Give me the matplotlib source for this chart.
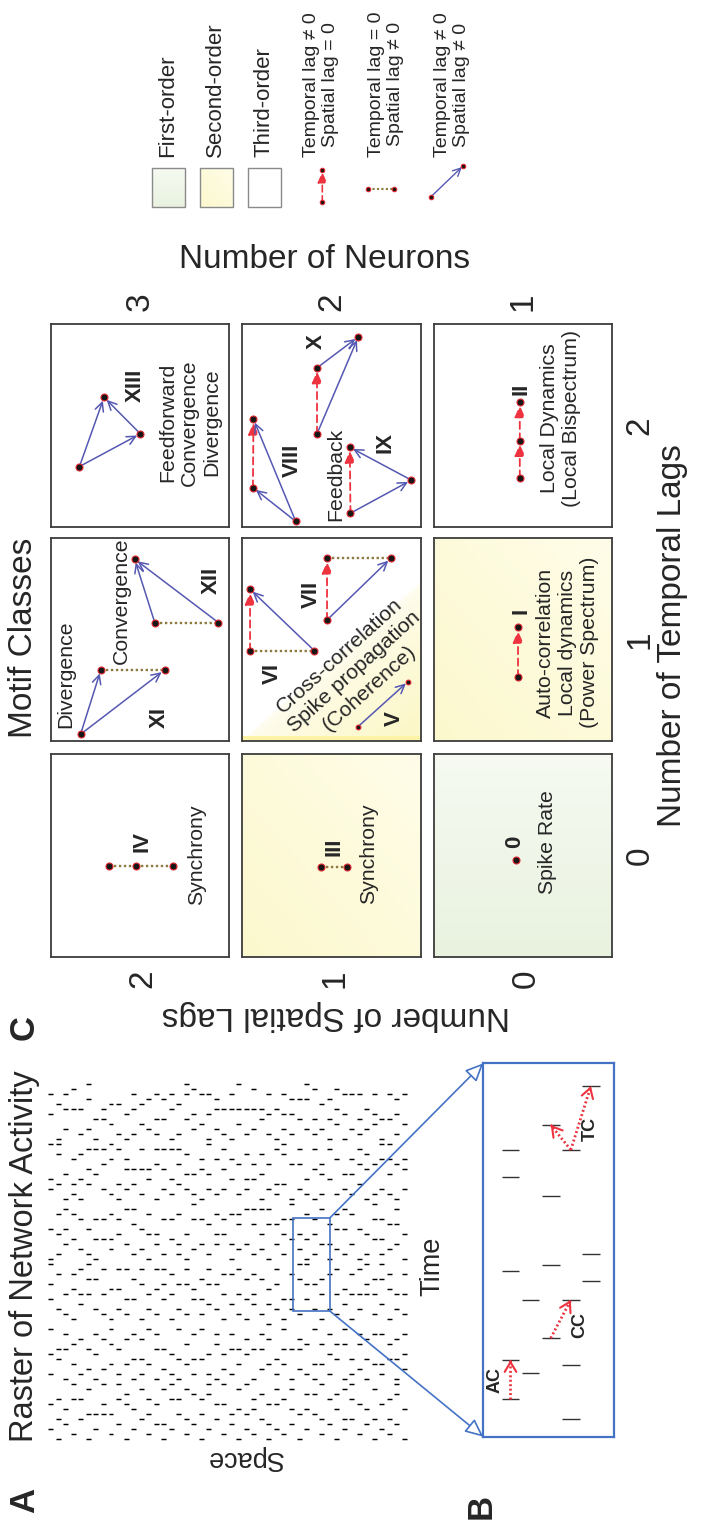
import numpy as np
import matplotlib
matplotlib.use("Agg")
import matplotlib.pyplot as plt
from matplotlib.patches import Rectangle, ConnectionPatch
from matplotlib.colors import to_rgb

plt.rcParams["font.family"] = ["Liberation Sans", "DejaVu Sans"]

# ------------------------------------------------------------------ data
NEURON_TICKS = ["3", "2", "1"]      # one per column of motif boxes
TEMPORAL_TICKS = ["2", "1", "0"]    # one per row of motif boxes
SPATIAL_TICKS = ["2", "1", "0"]     # one per column of motif boxes

# order class of each motif box, rows top->bottom, columns left->right
BOX_ORDER = [["third", "third", "third"],
             ["third", "mixed", "second"],
             ["third", "second", "first"]]

MOTIF_NAMES = ["0", "I", "II", "III", "IV", "V", "VI", "VII",
               "VIII", "IX", "X", "XI", "XII", "XIII"]
# (row, column) of the box holding each motif
MOTIF_BOX = [(2, 2), (1, 2), (0, 2), (2, 1), (2, 0), (1, 1), (1, 1), (1, 1),
             (0, 1), (0, 1), (0, 1), (1, 0), (1, 0), (0, 0)]
# node positions inside the box (fraction of width, fraction of height from top)
MOTIF_NODES = [
    [(0.459, 0.522)],
    [(0.472, 0.440), (0.472, 0.686)],
    [(0.482, 0.383), (0.482, 0.574), (0.482, 0.757)],
    [(0.441, 0.557), (0.588, 0.557)],
    [(0.328, 0.552), (0.479, 0.552), (0.686, 0.552)],
    [(0.646, 0.931), (0.925, 0.709)],
    [(0.045, 0.555), (0.404, 0.555), (0.045, 0.252)],
    [(0.475, 0.404), (0.475, 0.099), (0.832, 0.099)],
    [(0.064, 0.469), (0.061, 0.806), (0.300, 0.972)],
    [(0.606, 0.932), (0.602, 0.607), (0.946, 0.769)],
    [(0.419, 0.541), (0.419, 0.216), (0.650, 0.063)],
    [(0.166, 0.967), (0.280, 0.650), (0.638, 0.650)],
    [(0.583, 0.417), (0.941, 0.417), (0.470, 0.104)],
    [(0.160, 0.702), (0.502, 0.541), (0.298, 0.361)],
]
# links (from, to, kind): t = temporal lag only, s = spatial lag only, ts = both
MOTIF_LINKS = [
    [],
    [(1, 0, "t")],
    [(2, 1, "t"), (1, 0, "t")],
    [(0, 1, "s")],
    [(0, 1, "s"), (1, 2, "s")],
    [(0, 1, "ts")],
    [(0, 2, "t"), (0, 1, "s"), (1, 2, "ts")],
    [(0, 1, "t"), (1, 2, "s"), (0, 2, "ts")],
    [(1, 0, "t"), (2, 0, "ts"), (2, 1, "ts")],
    [(0, 1, "t"), (0, 2, "ts"), (2, 1, "ts")],
    [(0, 1, "t"), (1, 2, "ts"), (0, 2, "ts")],
    [(0, 1, "ts"), (0, 2, "ts"), (1, 2, "s")],
    [(0, 1, "s"), (0, 2, "ts"), (1, 2, "ts")],
    [(0, 1, "ts"), (0, 2, "ts"), (1, 2, "ts")],
]
MOTIF_LABEL_AT = [(0.453, 0.431), (0.491, 0.361), (0.486, 0.320), (0.516, 0.457),
                  (0.511, 0.432), (0.851, 0.889), (0.171, 0.667), (0.385, 0.280),
                  (0.282, 0.674), (0.801, 0.586), (0.413, 0.086), (0.606, 0.883),
                  (0.900, 0.210), (0.473, 0.303)]
SMALL_NODE_MOTIFS = ["V"]

CAPTION_BOX = [(2, 2), (1, 2), (0, 2), (2, 1), (2, 0), (1, 1),
               (0, 1), (0, 0), (1, 0), (1, 0)]
CAPTION_TEXT = ["Spike Rate",
                "Auto-correlation\nLocal dynamics\n(Power Spectrum)",
                "Local Dynamics\n(Local Bispectrum)",
                "Synchrony",
                "Synchrony",
                "Cross-correlation\nSpike propagation\n(Coherence)",
                "Feedback",
                "Feedforward\nConvergence\nDivergence",
                "Divergence",
                "Convergence"]
CAPTION_AT = [(0.640, 0.435), (0.750, 0.515), (0.713, 0.463), (0.705, 0.490),
              (0.820, 0.498), (0.627, 0.660), (0.523, 0.739), (0.777, 0.486),
              (0.085, 0.672), (0.398, 0.310)]
CAPTION_ROT = [90, 90, 90, 90, 90, 42, 90, 90, 90, 90]

ORDER_NAMES = ["First-order", "Second-order", "Third-order"]
ORDER_KEYS = ["first", "second", "third"]
LINK_NAMES = ["Temporal lag \u2260 0\nSpatial lag = 0",
              "Temporal lag = 0\nSpatial lag \u2260 0",
              "Temporal lag \u2260 0\nSpatial lag \u2260 0"]
LINK_KEYS = ["t", "s", "ts"]

# spike raster: one string per neuron, '|' marks a spike in a time bin
RASTER_ROWS = [
    "..|....|.... .|...|....|. ....|..|...| |.....|..... ..|.|......| .....|...|..",
    "|...|...|... ....|.|..... ..|......|.. .|...|...|.. ...|.....|.| |......|....",
    "...|..|..... |.....|..|.. .|...|...... ...|..|...|. |....|...... ..|...|..|..",
    ".|......|..| ...|...|.... |.....|..|.. ....|....|.. .|.|....|... ......|...|.",
    "....|...|... .|......|... ...|.|....|. ..|.....|... |...|....|.. .|....|.....",
    "|....|....|. ..|...|..... .....|..|..| .|....|..... ...|..|...|. ..|.....|..|",
    "..|..|...... |....|...|.. ..|.....|... |...|...|... .....|....|. |...|......",
    ".....|.|...| ..|.....|... .|...|....|. ....|...|... ..|....|..|. ....|.|....",
    ".|...|...... ...|...|..|. |.....|..... ..|.|....|.. .|......|..| ...|...|...",
    "...|....|..| .|....|..... ..|...|...|. .....|..|... |..|......|. .|.....|...",
    "|......|.|.. ...|....|... .|..|.....|. ...|......|. ..|...|.|... |....|.....",
    "..|...|..... |...|....|.. ....|...|... .|.....|..|. ...|..|..... .|....|..|.",
    "....|.....|. .|..|...|... |......|..|. ..|...|..... .|....|...|. ...|...|...",
    ".|...|..|... ...|......|. ..|..|...... |....|...|.. ....|.|..... ..|.....|..",
    "...|...|.... |.....|..|.. .|....|...|. ...|.|...... |......|..|. .|..|....|.",
    "|..|......|. ..|...|..... ....|..|..|. .|......|... ..|...|...|. ....|...|...",
    "..|.....|..| .|...|...... |....|...|.. ....|...|... .|..|.....|. |.....|..|..",
    ".....|..|... |...|.....|. ..|....|.... .|.|.....|.. ...|...|..|. .|.....|....",
    ".|..|.....|. ...|...|.... .|.....|..|. |....|...... ..|..|...|.. ....|....|.|",
    "...|.....|.. .|..|....|.. ....|.|..... ..|.....|..| .|...|...... ..|..|....|.",
    "|....|..|... ....|.....|. .|..|...|... ...|....|... |.....|.|... ...|.....|..",
    "..|......|.| .|...|...... ...|...|..|. .|.....|.... ..|..|.....| |....|...|..",
    "....|..|.... |......|.|.. ..|....|.... ...|.|...|.. .|......|... ..|...|.|...",
    ".|.....|...| ..|..|...... |....|...|.. .....|..|... ..|...|...|. .|....|.....",
    "...|.|...... .|....|..|.. ...|.....|.. |..|.....|.. ....|...|... |.....|..|..",
    "|.....|...|. ...|..|..... .|...|....|. ..|....|.|.. .|.....|.... ...|..|....|",
    "..|..|.....| .....|..|... |...|...|... ...|......|. ..|.|....|.. .|....|.....",
    ".|....|.|... |.....|..... ...|.|...|.. .|.....|..|. ....|..|.... ..|...|...|.",
    "....|....|.. ..|...|..|.. .|......|... ..|..|....|. |....|...|.. ....|.|.....",
    "|..|...|.... ...|....|..| ...|..|..... |......|..|. ..|....|.... .|...|...|..",
    "..|....|..|. .|..|....... ..|....|..|. ...|...|.... .|.|......|. |.....|.....",
    ".|......|... ...|..|...|. |...|....... .|...|..|... ...|.....|.| ..|..|...|..",
    "...|..|...|. |.....|..... ..|.|....|.. ....|...|..| |......|.... .|...|..|...",
    "|....|...... ..|...|.|... .|......|..| ..|..|...... ..|....|..|. ....|...|...",
    "..|...|..|.. .|.....|.... ....|..|...| |...|....|.. .|..|....... ..|.....|..|",
    ".....|...|.. |..|......|. ..|....|.... .|...|..|... |.....|...|. .|..|.....|.",
    ".|..|......| ...|...|.... |....|..|... ...|......|. .|...|.|.... ..|....|....",
    "...|....|... .|...|...|.. ..|......|.. |..|...|.... ....|.....|. |...|...|...",
    "|.....|..|.. ....|..|.... .|...|....|. ..|...|..|.. .|......|... ...|..|...|.",
    "..|.|.....|. |......|..|. ...|..|..... .|....|...|. ..|..|...... |....|...|..",
    "....|...|..| .|..|....... |....|...|.. ...|.....|.. .|...|..|... ..|......|..",
    ".|.....|.... ..|....|.|.. ..|..|....|. |.....|..... ...|...|..|. .|..|....|..",
    "...|..|..... |...|...|... .....|.|...| .|...|...... |.....|..|.. ..|...|.....",
    "|...|.....|. ...|.....|.. .|...|..|... ....|...|..| .|.....|.... ...|.|...|..",
    "..|....|.... .|.|.....|.. ...|....|..| .|..|...|... ..|.....|..| |...|.......",
    ".|..|...|... ....|..|.... |.....|..|.. ..|....|.... .|...|..|..| ....|....|..",
    "...|.....|.| |...|...|... ..|..|...... ...|...|..|. |......|.... .|...|..|...",
    "|.....|..... ..|..|...|.. .|...|...|.. |....|...... ..|...|.|... ...|.....|..",
]
RASTER_BINS = 72

# zoomed window (panel B): neuron index and spike time of each spike
B_NEURON = [0, 0, 2, 4, 2, 3, 4, 4, 2, 0, 1, 3, 2, 0, 1, 3, 0, 3]
B_TIME = [76.8, 69.5, 64.5, 93.9, 83.5, 76.8, 48.9, 41.7, 46.0, 44.4,
          36.6, 36.6, 26.4, 20.5, 17.0, 19.2, 10.0, 4.7]
# spike pairs linked by an arrow: ((neuron, time) -> (neuron, time))
B_LINKS = [((0, 10.0), (0, 20.5)),
           ((2, 26.4), (3, 36.6)),
           ((3, 76.8), (4, 93.9)),
           ((3, 76.8), (2, 83.5))]
B_LINK_NAMES = ["AC", "CC", "TC"]

# ------------------------------------------------------------------ style
W, H = 702, 1527
RED = "#ee3340"
BLUE = "#5558b2"
BROWN = "#8c7a3e"
BOXBLUE = "#4472c4"
EDGE = "#3c3c3c"
TXT = "#262626"
BIG = 24
DESC = 15.3

COL_X = [(51, 229), (242, 421), (434, 612)]
ROW_Y = [(324, 527), (538, 741), (754, 957)]


def frac_rect(x0, y0, x1, y1):
    return [x0 / W, 1 - y1 / H, (x1 - x0) / W, (y1 - y0) / H]


def blend(c0, c1, t):
    c0, c1 = np.array(to_rgb(c0)), np.array(to_rgb(c1))
    t = np.asarray(t)[..., None]
    return c0 * (1 - t) + c1 * t


def fill_image(kind, n=120):
    yy, xx = np.mgrid[0:n, 0:n] / (n - 1.0)
    if kind == "first":
        return blend("#f6faf2", "#e9f2df", yy)
    if kind == "second":
        return blend("#fffde9", "#fcf8cd", 0.5 * yy + 0.5 * (1 - xx))
    if kind == "mixed":
        line = 1 - 0.78 * xx
        t = np.clip((yy - line) / 0.78, 0, 1)
        a = np.where(yy > line, 0.25 + 0.75 * t ** 0.7, 0.0)
        return blend("#ffffff", "#fcf7c6", a)
    return blend("#ffffff", "#ffffff", yy)


fig = plt.figure(figsize=(W / 100, H / 100), dpi=100)


def draw_link(ax, p, q, kind, r=2.6, scale=1.0):
    if kind == "s":
        ax.plot([p[0], q[0]], [p[1], q[1]], ls=(0, (1.0, 1.1)), lw=1.7 * scale,
                color=BROWN, zorder=2, clip_on=False)
    elif kind == "t":
        ax.annotate("", xy=q, xytext=p, annotation_clip=False,
                    arrowprops=dict(arrowstyle="-|>,head_length=0.5,head_width=0.22",
                                    color=RED, lw=1.3 * scale, ls=(0, (4, 2.4)),
                                    shrinkA=0, shrinkB=r,
                                    mutation_scale=14 * scale), zorder=3)
    else:
        ax.annotate("", xy=q, xytext=p, annotation_clip=False,
                    arrowprops=dict(arrowstyle="->,head_length=0.45,head_width=0.22",
                                    color=BLUE, lw=1.1 * scale, shrinkA=0, shrinkB=r,
                                    mutation_scale=14 * scale), zorder=3)


def draw_nodes(ax, pts, ms):
    xs = [p[0] for p in pts]
    ys = [p[1] for p in pts]
    ax.plot(xs, ys, "o", ms=ms, mfc="#161616", mec="#e0262e", mew=0.8,
            zorder=6, clip_on=False)


# ------------------------------------------------------------------ panel C boxes
box_axes = {}
for r, (y0, y1) in enumerate(ROW_Y):
    for c, (x0, x1) in enumerate(COL_X):
        bax = fig.add_axes(frac_rect(x0, y0, x1, y1))
        bax.set_xlim(0, 1)
        bax.set_ylim(1, 0)
        bax.set_xticks([])
        bax.set_yticks([])
        for sp in bax.spines.values():
            sp.set_color(EDGE)
            sp.set_linewidth(1.3)
        kind = BOX_ORDER[r][c]
        bax.imshow(fill_image(kind), extent=(0, 1, 1, 0), origin="upper",
                   aspect="auto", zorder=0, interpolation="bilinear")
        if kind == "mixed":
            bax.add_patch(Rectangle((0, 0.975), 1, 0.025, color="#fbf4a6",
                                    lw=0, zorder=1))
        box_axes[(r, c)] = bax

for name, box, nodes, links, lab in zip(MOTIF_NAMES, MOTIF_BOX, MOTIF_NODES,
                                         MOTIF_LINKS, MOTIF_LABEL_AT):
    bax = box_axes[box]
    small = name in SMALL_NODE_MOTIFS
    for i, j, kind in links:
        draw_link(bax, nodes[i], nodes[j], kind, r=1.6 if small else 2.6)
    draw_nodes(bax, nodes, 3.4 if small else 5.0)
    bax.text(lab[0], lab[1], name, rotation=90, ha="center", va="center",
             fontsize=16, fontweight="bold", color=TXT, zorder=7)

for box, txt, at, rot in zip(CAPTION_BOX, CAPTION_TEXT, CAPTION_AT, CAPTION_ROT):
    bax = box_axes[box]
    bax.text(at[0], at[1], txt, rotation=rot, rotation_mode="anchor",
             ha="center", va="center", multialignment="center",
             fontsize=DESC, color=TXT, linespacing=1.2, zorder=7, clip_on=False)

# ------------------------------------------------------------------ raster (panel A)
rax = fig.add_axes(frac_rect(47, 1081, 408, 1441))
n_neurons = len(RASTER_ROWS)
rax.set_xlim(0, n_neurons)
rax.set_ylim(0, RASTER_BINS)
rax.axis("off")
sx, sy = [], []
for k, row in enumerate(RASTER_ROWS):
    cells = row.replace(" ", "")[:RASTER_BINS]
    for i, ch in enumerate(cells):
        if ch == "|":
            sx.append(k)
            sy.append(i + 0.5)
sx = np.array(sx)
rax.hlines(sy, sx + 0.18, sx + 0.84, color="black", lw=1.05)
win = (32.7, 26.0, 4.9, 18.6)
rax.add_patch(Rectangle((win[0], win[1]), win[2], win[3], fill=False,
                        ec=BOXBLUE, lw=1.2, zorder=5))

# ------------------------------------------------------------------ zoom window (panel B)
bbx = fig.add_axes(frac_rect(483.3, 1063.3, 614, 1436.7))
bbx.set_xlim(-1.353, 5.149)
bbx.set_ylim(0, 100)
bbx.set_xticks([])
bbx.set_yticks([])
for sp in bbx.spines.values():
    sp.set_color(BOXBLUE)
    sp.set_linewidth(1.6)
bn = np.array(B_NEURON, dtype=float)
bbx.hlines(B_TIME, bn - 0.44, bn + 0.44, color="#333333", lw=1.0)
for (p, q) in B_LINKS:
    p = np.array(p, float)
    q = np.array(q, float)
    bbx.plot([p[0], q[0]], [p[1], q[1]], ls=(0, (0.7, 0.9)), lw=2.0, color=RED)
    e = q - 0.04 * (q - p)
    bbx.annotate("", xy=q, xytext=e,
                 arrowprops=dict(arrowstyle="->,head_length=0.5,head_width=0.3",
                                 color=RED, lw=1.5, shrinkA=0, shrinkB=0,
                                 mutation_scale=14))
for name, at in zip(B_LINK_NAMES, [(-0.77, 15.2), (3.46, 29.9), (3.99, 82.4)]):
    bbx.text(at[0], at[1], name, rotation=90, ha="center", va="center",
             fontsize=13, fontweight="bold", color=TXT)

for ya, yb in [(win[1] + win[3], 1.0), (win[1], 0.0)]:
    con = ConnectionPatch(xyA=(win[0] + win[2], ya), coordsA=rax.transData,
                          xyB=(0.0, yb), coordsB=bbx.transAxes,
                          arrowstyle="-|>,head_length=0.55,head_width=0.25",
                          mutation_scale=20, ec=BOXBLUE, fc="white", lw=1.2,
                          shrinkA=0, shrinkB=0, zorder=6)
    fig.add_artist(con)

# ------------------------------------------------------------------ labels and legend
ax = fig.add_axes([0, 0, 1, 1])
ax.set_xlim(0, W)
ax.set_ylim(H, 0)
ax.axis("off")
ax.patch.set_alpha(0)

for txt, x, y in [("A", 25, 1500), ("B", 481, 1506), ("C", 24, 1028)]:
    ax.text(x, y, txt, rotation=90, ha="center", va="center", fontsize=25,
            fontweight="bold", color=TXT)
ax.text(25, 1256, "Raster of Network Activity", rotation=90, ha="center",
        va="center", fontsize=23.5, color=TXT)
ax.text(244, 1458, "Space", rotation=180, ha="center", va="center",
        fontsize=19.5, color=TXT)
ax.text(432, 1266, "Time", rotation=90, ha="center", va="center",
        fontsize=19.5, color=TXT)

ax.text(24, 638, "Motif Classes", rotation=90, ha="center", va="center",
        fontsize=BIG, color=TXT)
ax.text(325, 259, "Number of Neurons", ha="center", va="center",
        fontsize=BIG, color=TXT)
ax.text(672, 636, "Number of Temporal Lags", rotation=90, ha="center",
        va="center", fontsize=BIG, color=TXT)
ax.text(336, 1016, "Number of Spatial Lags", rotation=180, ha="center",
        va="center", fontsize=BIG, color=TXT)
for (x0, x1), lab in zip(COL_X, NEURON_TICKS):
    ax.text((x0 + x1) / 2, 302, lab, rotation=90, ha="center", va="center",
            fontsize=BIG, color=TXT)
for (x0, x1), lab in zip(COL_X, SPATIAL_TICKS):
    ax.text((x0 + x1) / 2 + 3, 979, lab, rotation=90, ha="center", va="center",
            fontsize=BIG, color=TXT)
for (y0, y1), lab in zip(ROW_Y, TEMPORAL_TICKS):
    ax.text(640, (y0 + y1) / 2, lab, rotation=90, ha="center", va="center",
            fontsize=BIG, color=TXT)

# legend: order classes
for k, (name, key) in enumerate(zip(ORDER_NAMES, ORDER_KEYS)):
    x0 = 151.7 + 48.0 * k
    ax.imshow(fill_image(key), extent=(x0, x0 + 33.5, 207, 168), origin="upper",
              aspect="auto", zorder=1)
    ax.add_patch(Rectangle((x0, 168), 33.5, 39, fill=False, ec="#8a8a8a",
                           lw=1.0, zorder=2))
    ax.text(x0 + 16, 157, name, rotation=90, ha="center", va="bottom",
            fontsize=16, color=TXT)

# legend: link kinds
link_samples = [((322.3, 202.3), (322.3, 170.0)),
                ((367.7, 188.7), (394.0, 188.7)),
                ((431.0, 196.7), (463.3, 165.7))]
for k, (name, key) in enumerate(zip(LINK_NAMES, LINK_KEYS)):
    p, q = link_samples[k]
    draw_link(ax, p, q, key, r=1.4, scale=0.9)
    draw_nodes(ax, [p, q], 3.2)
    ax.text([321, 386, 452][k], 157, name, rotation=90, ha="center",
            va="bottom", multialignment="center", fontsize=14, color=TXT,
            linespacing=1.2)

fig.savefig("out.png", dpi=100)
